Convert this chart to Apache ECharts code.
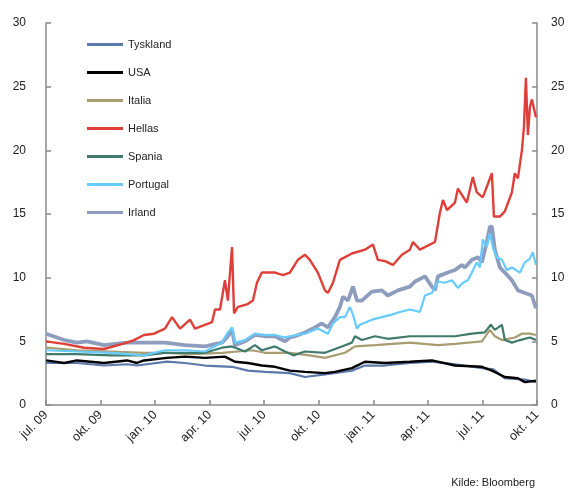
<!DOCTYPE html>
<html><head><meta charset="utf-8">
<script src="https://cdn.jsdelivr.net/npm/echarts@6/dist/echarts.min.js"></script>
<style>html,body{margin:0;padding:0;background:#fff}#c{width:575px;height:489px}</style>
</head><body><div id="c"></div>
<script>
// x = months since 1 jul. 2009
const xTickLabels = ['jul. 09','okt. 09','jan. 10','apr. 10','jul. 10','okt. 10','jan. 11','apr. 11','jul. 11','okt. 11'];
const seriesNames = ['Tyskland','USA','Italia','Hellas','Spania','Portugal','Irland'];

const tyskland = [[0,3.3],[1.0,3.3],[1.7,3.3],[3.19,3.1],[4.45,3.2],[5.0,3.1],[6.65,3.4],[7.64,3.3],[8.74,3.1],[10.23,3.0],[11.1,2.7],[12.04,2.6],[13.41,2.5],[14.24,2.2],[15.34,2.4],[16.82,2.7],[17.54,3.1],[18.64,3.1],[20.01,3.3],[21.22,3.4],[22.5,3.2],[23.97,2.9],[24.6,2.8],[25.23,2.1],[26.33,2.0],[26.94,1.8]];
const usa = [[0,3.5],[1.0,3.3],[1.7,3.5],[3.19,3.3],[4.45,3.5],[5.0,3.3],[5.39,3.5],[6.65,3.7],[7.64,3.8],[8.74,3.7],[9.84,3.8],[10.39,3.4],[11.1,3.3],[11.87,3.1],[12.59,3.0],[13.41,2.7],[14.24,2.6],[15.34,2.5],[15.89,2.6],[16.82,2.9],[17.54,3.4],[18.64,3.3],[20.01,3.4],[21.22,3.5],[22.49,3.1],[23.97,3.0],[24.52,2.7],[25.23,2.2],[25.95,2.1],[26.33,1.8],[26.94,1.9]];
const italia = [[0,4.5],[1.7,4.3],[3.57,4.2],[5.39,4.1],[6.65,4.1],[8.0,4.0],[9.68,4.1],[11.32,4.3],[12.04,4.1],[13.41,4.1],[14.5,3.9],[15.34,3.7],[16.44,4.1],[16.99,4.6],[18.09,4.7],[20.01,4.9],[21.55,4.7],[22.5,4.8],[23.97,5.0],[24.41,5.9],[24.68,5.4],[25.07,5.1],[25.78,5.3],[26.17,5.6],[26.61,5.6],[26.94,5.5]];
const hellas = [[0,5.0],[1.0,4.8],[2.09,4.5],[3.19,4.4],[4.45,4.9],[4.84,5.1],[5.39,5.5],[5.94,5.6],[6.54,6.0],[6.93,6.9],[7.37,6.0],[7.92,6.7],[8.19,6.0],[8.74,6.3],[9.13,6.5],[9.29,7.5],[9.57,7.5],[9.84,9.8],[10.0,8.2],[10.23,12.4],[10.34,7.2],[10.56,7.7],[11.05,7.9],[11.38,8.2],[11.6,9.6],[11.87,10.4],[12.59,10.4],[13.03,10.2],[13.41,10.4],[13.85,11.4],[14.24,11.8],[14.51,11.4],[14.95,10.4],[15.34,9.0],[15.5,8.8],[15.78,9.6],[16.16,11.4],[16.82,11.9],[17.54,12.2],[17.98,12.6],[18.25,11.4],[18.64,11.3],[19.08,11.0],[19.57,11.8],[20.01,12.2],[20.18,12.8],[20.56,12.2],[21.39,12.8],[21.66,15.1],[21.83,16.1],[22.05,15.3],[22.49,15.9],[22.65,17.0],[23.14,15.9],[23.47,17.9],[23.69,16.7],[24.02,16.3],[24.52,18.2],[24.63,14.8],[24.96,14.8],[25.23,15.2],[25.62,16.7],[25.78,18.2],[25.95,17.8],[26.17,20.0],[26.28,21.8],[26.39,25.7],[26.5,21.2],[26.61,23.4],[26.72,24.0],[26.94,22.6]];
const spania = [[0,4.0],[1.7,4.0],[3.57,3.9],[5.39,3.9],[6.54,4.1],[8.74,4.1],[9.68,4.5],[10.23,4.6],[10.94,4.2],[11.49,4.7],[11.87,4.3],[12.59,4.6],[13.14,4.2],[13.6,3.9],[14.24,4.2],[15.34,4.1],[16.27,4.6],[16.82,4.9],[16.99,5.4],[17.37,5.1],[18.09,5.4],[18.8,5.2],[20.01,5.4],[21.55,5.4],[22.49,5.4],[23.42,5.6],[24.13,5.7],[24.46,6.3],[24.68,5.9],[25.07,6.3],[25.23,5.1],[25.62,4.9],[26.06,5.1],[26.61,5.3],[26.94,5.1]];
const portugal = [[0,4.3],[1.7,4.2],[3.57,4.1],[5.39,3.9],[6.54,4.3],[7.64,4.3],[8.74,4.2],[9.68,4.9],[9.95,5.6],[10.23,6.1],[10.39,4.9],[10.94,5.1],[11.49,5.6],[12.04,5.5],[12.59,5.5],[13.14,5.3],[13.41,5.4],[14.24,5.6],[14.95,6.0],[15.5,5.6],[15.78,6.4],[16.16,6.9],[16.44,6.9],[16.71,7.7],[16.88,7.1],[17.1,6.0],[17.26,6.3],[17.92,6.7],[18.47,6.9],[19.02,7.1],[19.46,7.3],[20.01,7.5],[20.56,7.3],[20.84,8.6],[21.22,8.8],[21.55,9.7],[21.94,9.6],[22.32,9.8],[22.65,9.2],[22.93,9.6],[23.2,9.8],[23.42,10.4],[23.69,11.2],[23.86,10.8],[24.02,13.0],[24.24,12.4],[24.41,13.5],[24.57,12.4],[24.79,11.6],[25.07,11.4],[25.34,10.6],[25.62,10.8],[26.06,10.4],[26.33,11.2],[26.61,11.5],[26.77,12.0],[26.94,11.0]];
const irland = [[0,5.6],[1.0,5.1],[1.7,4.9],[2.25,5.0],[3.19,4.7],[4.45,4.9],[5.39,4.9],[6.54,4.9],[7.64,4.7],[8.74,4.6],[9.68,4.9],[10.0,5.4],[10.23,5.9],[10.39,4.7],[10.94,5.0],[11.49,5.5],[12.04,5.4],[12.59,5.4],[13.14,5.0],[13.41,5.3],[13.69,5.4],[14.24,5.7],[14.79,6.1],[15.17,6.4],[15.5,6.1],[15.89,6.9],[16.16,7.7],[16.33,8.5],[16.6,8.2],[16.88,9.3],[17.1,8.2],[17.37,8.2],[17.92,8.9],[18.47,9.0],[18.8,8.6],[19.35,9.0],[20.01,9.3],[20.29,9.7],[20.84,10.1],[21.22,9.3],[21.39,9.0],[21.55,10.1],[22.1,10.4],[22.49,10.6],[22.87,11.0],[23.04,10.8],[23.42,11.4],[23.75,11.6],[23.97,11.2],[24.24,12.8],[24.41,14.0],[24.52,14.0],[24.68,12.2],[24.96,10.8],[25.23,10.4],[25.62,9.8],[25.95,9.0],[26.33,8.8],[26.72,8.6],[26.94,7.6]];

const seriesData = [tyskland, usa, italia, hellas, spania, portugal, irland];
const colors = ['#5D78AA','#000000','#A89D70','#DE3F38','#3F7A6C','#66CCFF','#8E9DBD'];
const widths = [2.2,2.4,2.2,2.4,2.2,2.2,3.8];

const chart = echarts.init(document.getElementById('c'), null, {renderer:'canvas'});
const font = 'Liberation Sans, Arial, sans-serif';
const axisCommon = {
  type:'value', min:0, max:30, interval:5,
  axisLine:{show:true, lineStyle:{color:'#8a8a8a', width:1.5}},
  axisTick:{show:true, inside:true, length:5, lineStyle:{color:'#8a8a8a', width:1.5}},
  splitLine:{show:false},
  axisLabel:{color:'#222', fontSize:12, fontFamily:font}
};
chart.setOption({
  animation:false,
  color: colors,
  grid:{left:46, right:38, top:23, bottom:84, containLabel:false},
  legend:{
    orient:'vertical', left:82, top:34, itemWidth:36, itemHeight:3, itemGap:17,
    icon:'rect',
    textStyle:{fontSize:11, color:'#222', fontFamily:font},
    data: seriesNames
  },
  xAxis:{
    type:'value', min:0, max:27, interval:3,
    axisLine:{show:true, lineStyle:{color:'#8a8a8a', width:1.5}},
    axisTick:{show:true, inside:true, length:5, lineStyle:{color:'#8a8a8a', width:1.5}},
    splitLine:{show:false},
    axisLabel:{rotate:45, fontSize:12.5, color:'#222', fontFamily:font, margin:8,
      formatter:function(v){return xTickLabels[Math.round(v/3)] || '';}}
  },
  yAxis:[
    Object.assign({}, axisCommon, {position:'left', axisLabel:Object.assign({}, axisCommon.axisLabel, {margin:20})}),
    Object.assign({}, axisCommon, {position:'right', axisLabel:Object.assign({}, axisCommon.axisLabel, {margin:14})})
  ],
  series: seriesNames.map(function(n,i){
    return {name:n, type:'line', data:seriesData[i], showSymbol:false, symbol:'none',
      lineStyle:{width:widths[i], color:colors[i]}, itemStyle:{color:colors[i]},
      z: i===6 ? 2 : (i===3 ? 4 : 3)};
  }),
  graphic:[{type:'text', right:40, bottom:1, style:{text:'Kilde: Bloomberg', fontSize:11, fill:'#222', fontFamily:font}}]
});
</script></body></html>
